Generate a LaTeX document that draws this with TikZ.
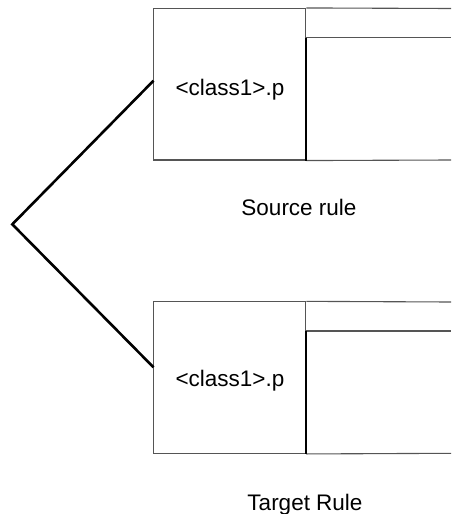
\documentclass[tikz,border=0pt]{standalone}
\usepackage{fontspec}
\setmainfont{Liberation Sans}
\definecolor{boxgray}{RGB}{85,85,85}
\begin{document}
\begin{tikzpicture}[x=1pt,y=-1pt,
  txt/.style={font=\fontsize{22.5}{27}\selectfont, inner sep=0pt},
  cellbox/.style={draw=boxgray, line width=1.1pt, minimum width=152.2pt, minimum height=151.5pt, inner sep=0pt, font=\fontsize{22.5}{27}\selectfont},
  thinline/.style={draw=boxgray, line width=1.1pt},
  thickline/.style={draw=black, line width=2.4pt},
  link/.style={draw=black, line width=2.6pt, line join=miter}]
\useasboundingbox (0,0) rectangle (451,514);
% source rule
\node[cellbox] (src) at (229.6,84.25) {};
\node[txt, anchor=base] (srct) at (230,95) {<class1>.p};
\coordinate (srcdiv) at (451,37.7);
\draw[thinline] (src.north east) -- (451,8.5);
\draw[thinline] (src.south east) -- (451,160);
\draw[thinline] (src.east |- srcdiv) -- (srcdiv);
\draw[thickline] (src.east |- srcdiv) -- (src.south east);
\node[txt, anchor=base] (srclab) at (299,215) {Source rule};
% target rule
\node[cellbox] (tgt) at (229.6,377.65) {};
\node[txt, anchor=base] (tgtt) at (230,386) {<class1>.p};
\coordinate (tgtdiv) at (451,331);
\draw[thinline] (tgt.north east) -- (451,302);
\draw[thinline] (tgt.south east) -- (451,453.3);
\draw[thinline] (tgt.east |- tgtdiv) -- (tgtdiv);
\draw[thickline] (tgt.east |- tgtdiv) -- (tgt.south east);
\node[txt, anchor=base] (tgtlab) at (305,510) {Target Rule};
% connector
\coordinate (apex) at (12.3,224.3);
\coordinate (srcend) at (153.5,80.7);
\coordinate (tgtend) at (153.5,367.3);
\draw[link] (srcend) -- (apex) -- (tgtend);
\end{tikzpicture}
\end{document}
